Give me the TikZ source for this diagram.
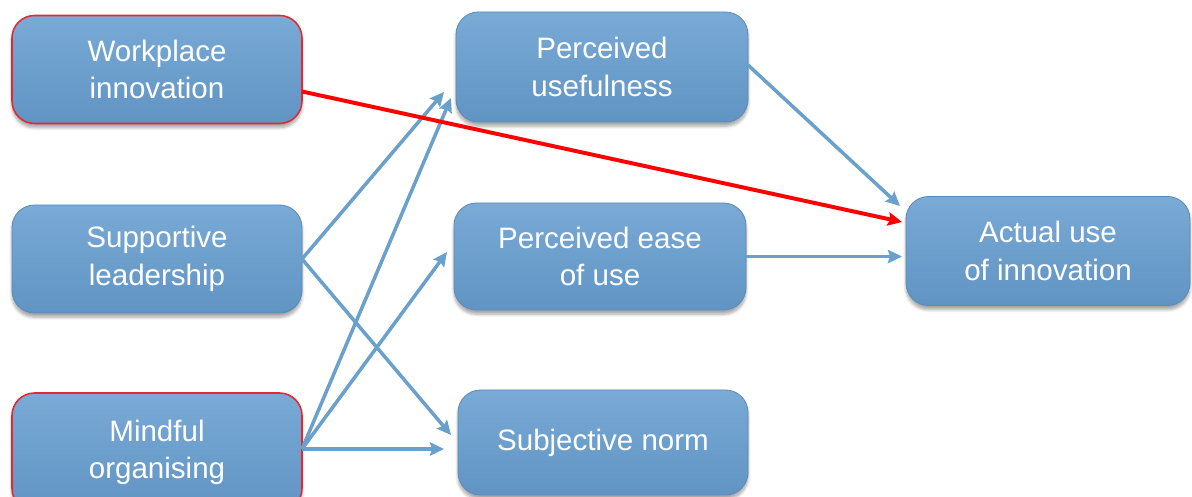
\documentclass[tikz,border=0pt]{standalone}
\usepackage{fontspec}
\setmainfont{Liberation Sans}
\usetikzlibrary{arrows.meta,calc,shadows.blur}
\definecolor{boxtop}{RGB}{122,170,214}
\definecolor{boxmid}{RGB}{104,157,203}
\definecolor{boxbot}{RGB}{96,148,195}
\definecolor{boxedge}{RGB}{92,140,186}
\definecolor{flowblue}{RGB}{106,160,204}
\definecolor{keyred}{RGB}{228,40,48}
\tikzset{
  stage/.style={rounded corners=16pt, top color=boxtop, middle color=boxmid,
    bottom color=boxbot, draw=boxedge, line width=0.6pt, text=white,
    align=center, font=\fontsize{21}{26.5}\selectfont, outer sep=0pt,
    inner sep=0pt, minimum width=290*0.025cm, minimum height=108*0.025cm,
    blur shadow={shadow xshift=0pt, shadow yshift=-3pt, shadow blur steps=6,
      shadow opacity=35}},
  keystage/.style={stage, draw=keyred, line width=1.1pt},
  link/.style={draw=flowblue, line width=2.5pt,
    -{Stealth[length=10pt,width=9.5pt,inset=1.5pt]}},
  keylink/.style={draw=red, line width=2.8pt,
    -{Stealth[length=10pt,width=9.5pt,inset=1.5pt]}}
}
\begin{document}
\begin{tikzpicture}[x=0.025cm, y=-0.025cm]
\useasboundingbox (0,0) rectangle (1192,497);
\clip (0,0) rectangle (1192,497);
% antecedents
\node[keystage] (wi) at (157,69.5) {Workplace\\innovation};
\node[stage]    (sl) at (157,259)  {Supportive\\leadership};
\node[keystage, minimum height=118*0.025cm] (mo) at (157,452) {Mindful\\organising};
% beliefs
\node[stage, minimum width=292*0.025cm, minimum height=110*0.025cm] (pu) at (602,67) {Perceived\\usefulness};
\node[stage, minimum width=292*0.025cm, minimum height=107*0.025cm] (pe) at (600,256.5) {Perceived ease\\of use};
\node[stage, minimum height=105*0.025cm] (sn) at (603,442.5) {Subjective norm};
% outcome
\node[stage, minimum width=284*0.025cm, minimum height=109*0.025cm] (au) at (1048,251) {Actual use\\of innovation};
% paths
\draw[link] (sl.east) -- ($(pu.west)+(-12,25)$);
\draw[link] (sl.east) -- ($(sn.west)+(-7,-7.5)$);
\draw[link] ($(mo.east)+(0,-3)$) -- ($(pu.west)+(-5,31)$);
\draw[link] ($(mo.east)+(0,-3)$) -- ($(pe.west)+(-7,-4.5)$);
\draw[link] ($(mo.east)+(0,-3)$) -- ($(sn.west)+(-14,6.5)$);
\draw[link] ($(pu.east)+(0,-2)$) -- ($(au.west)+(-6,-45)$);
\draw[link] (pe.east) -- ($(pe.east -| au.west)+(-4,0)$);
\draw[keylink] ($(wi.east)+(0,22)$) -- ($(au.west)+(-4,-29)$);
\end{tikzpicture}
\end{document}
